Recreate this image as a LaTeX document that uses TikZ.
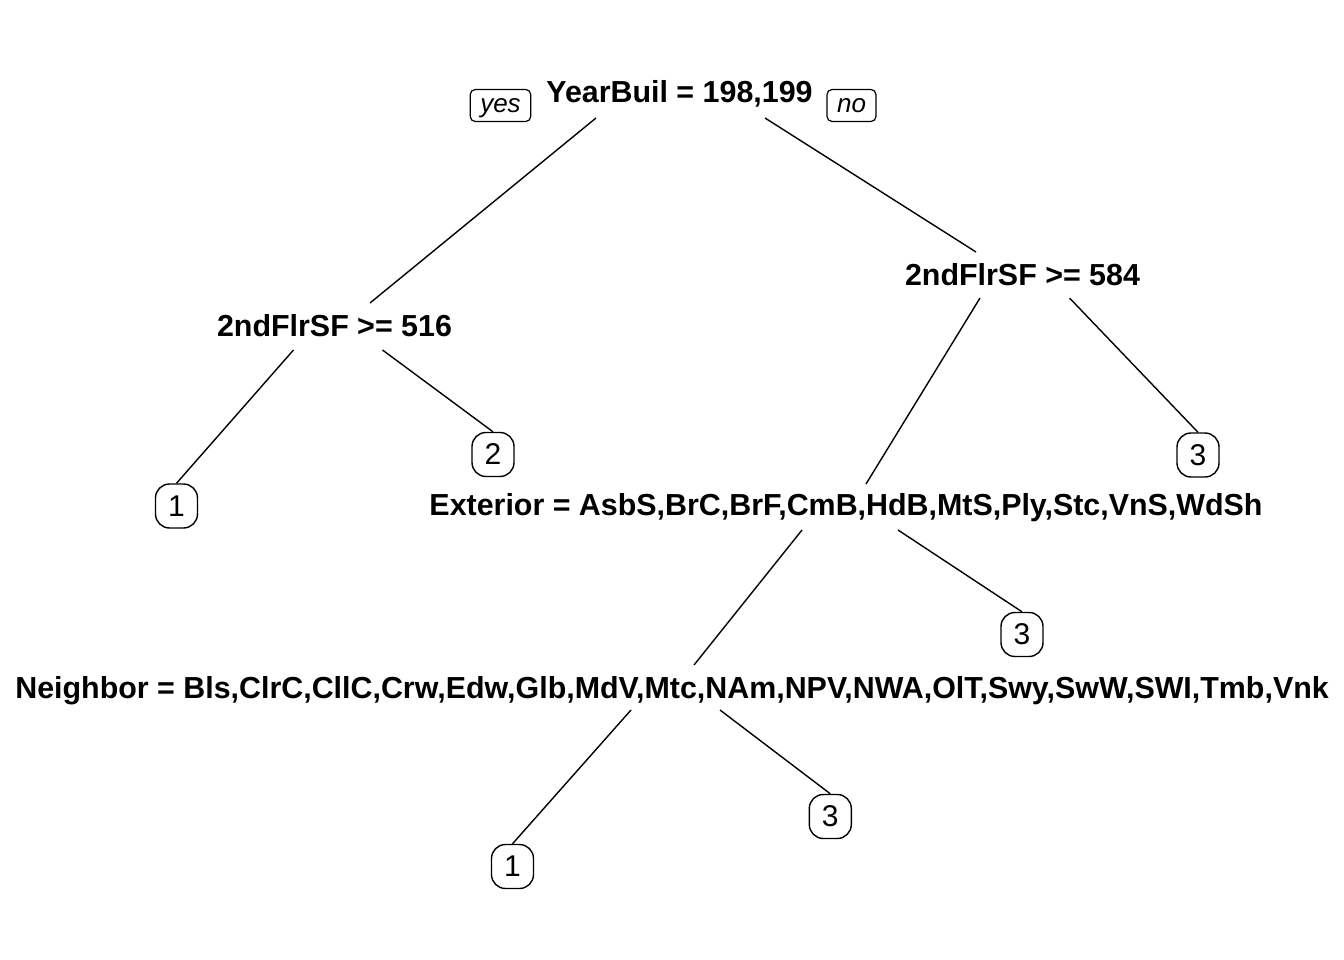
\documentclass[tikz,border=0pt]{standalone}
\usepackage{fontspec}
\setmainfont{Liberation Sans}
\usetikzlibrary{calc}
\begin{document}
\begin{tikzpicture}[x=1pt,y=-1pt,
  split/.style={inner sep=0pt, anchor=base, font=\fontsize{30.4}{36}\selectfont\bfseries},
  leaf/.style={draw, line width=1.4pt, rounded corners=14pt, minimum width=42pt, minimum height=44pt, inner sep=0pt, font=\fontsize{30}{34}\selectfont},
  yn/.style={draw, line width=1.2pt, rounded corners=5pt, inner xsep=10pt, inner ysep=5.5pt, text height=18pt, text depth=3pt, anchor=base, font=\fontsize{26}{30}\selectfont\itshape},
  branch/.style={line width=1.4pt}]
\useasboundingbox (0,0) rectangle (1344,960);
\fill[white] (0,0) rectangle (1344,960);
% split labels
\node[split] (root) at (679.5,103) {YearBuil = 198,199};
\node[split] (ls) at (334.5,336) {2ndFlrSF >= 516};
\node[split] (rs) at (1022.5,285) {2ndFlrSF >= 584};
\node[split] (ext) at (846,515) {Exterior = AsbS,BrC,BrF,CmB,HdB,MtS,Ply,Stc,VnS,WdSh};
\node[split] (nb) at (672,698) {Neighbor = Bls,ClrC,CllC,Crw,Edw,Glb,MdV,Mtc,NAm,NPV,NWA,OlT,Swy,SwW,SWI,Tmb,Vnk};
% yes / no
\node[yn] (yes) at (500.5,113) {yes};
\node[yn] (no) at (851.5,113) {no};
% leaves
\node[leaf] (leafA) at (176.5,506) {1};
\node[leaf] (leafB) at (493,454.5) {2};
\node[leaf] (leafC) at (1198,455) {3};
\node[leaf] (leafD) at (1022,634.5) {3};
\node[leaf] (leafE) at (512.5,866.5) {1};
\node[leaf] (leafF) at (830.3,816.5) {3};
% branches
\draw[branch] ($(root.base)+(-83.5,15)$) -- ($(ls.base)+(35.5,-33)$);
\draw[branch] ($(root.base)+(85.5,15)$) -- ($(rs.base)+(-46.5,-33)$);
\draw[branch] ($(ls.base)+(-41,14)$) -- (leafA.north);
\draw[branch] ($(ls.base)+(48,14)$) -- (leafB.north);
\draw[branch] ($(rs.base)+(-42.5,13)$) -- ($(ext.base)+(20,-31)$);
\draw[branch] ($(rs.base)+(47,13)$) -- (leafC.north);
\draw[branch] ($(ext.base)+(-44,15)$) -- ($(nb.base)+(22,-33)$);
\draw[branch] ($(ext.base)+(52,15)$) -- (leafD.north);
\draw[branch] ($(nb.base)+(-41,12)$) -- (leafE.north);
\draw[branch] ($(nb.base)+(48,12)$) -- (leafF.north);
\end{tikzpicture}
\end{document}
